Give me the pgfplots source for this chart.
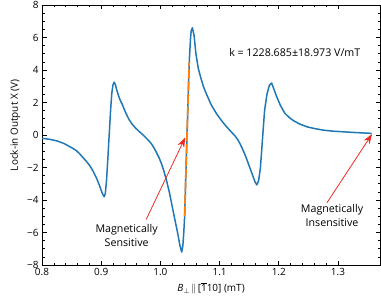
\documentclass[border=0pt]{standalone}
\usepackage{fontspec}
\setmainfont{Open Sans}
\usepackage{pgfplots}
\pgfplotsset{compat=1.18}
\usetikzlibrary{arrows.meta}
\definecolor{mblue}{HTML}{1F77B4}
\definecolor{morange}{HTML}{FF7F0E}
\definecolor{mred}{HTML}{EE2A24}
\begin{document}
\begin{tikzpicture}
\begin{axis}[
  name=main,
  scale only axis, width=338bp, height=260bp,
  xmin=0.8, xmax=1.371, ymin=-8, ymax=8,
  xtick={0.8,0.9,1.0,1.1,1.2,1.3}, xticklabels={0.8,0.9,1.0,1.1,1.2,1.3},
  ytick={-8,-6,-4,-2,0,2,4,6,8}, yticklabels={−8,−6,−4,−2,0,2,4,6,8},
  minor x tick num=4, minor y tick num=3,
  tick align=inside, major tick length=4.5bp, minor tick length=2.5bp,
  tick style={black, line width=0.6pt},
  axis line style={line width=0.8pt},
  ticklabel style={font=\fontsize{10}{12}\selectfont},
  label style={font=\fontsize{10}{12}\selectfont},
  xlabel={\textit{B}\raisebox{-0.4ex}{\scriptsize$\perp$}\,$\parallel$\,[\ensuremath{\overline{\mbox{1}}}10] (mT)},
  ylabel={Lock-in Output X (V)},
  ylabel style={at={(ticklabel cs:0.537)}},
  clip=false,
]
\addplot[mblue, line width=1.5pt, line join=round] coordinates {
(0.800,-0.20) (0.812,-0.26) (0.825,-0.36) (0.837,-0.52) (0.846,-0.70)
(0.852,-0.82) (0.858,-0.96) (0.864,-1.17) (0.869,-1.38) (0.874,-1.58)
(0.880,-1.85) (0.886,-2.2) (0.8915,-2.6)
(0.897,-3.1) (0.902,-3.6) (0.905,-3.8) (0.907,-3.6) (0.909,-2.8)
(0.911,-1.6) (0.9135,0.0) (0.916,1.6) (0.918,2.6) (0.920,3.1) (0.922,3.25)
(0.924,3.1) (0.926,2.8) (0.929,2.45) (0.932,2.15) (0.936,1.85) (0.941,1.4)
(0.947,0.95) (0.952,0.68) (0.958,0.43) (0.964,0.22) (0.970,0.03)
(0.975,-0.15) (0.980,-0.33) (0.985,-0.55) (0.989,-0.78) (0.993,-1.05)
(0.998,-1.42) (1.002,-1.78) (1.006,-2.22) (1.010,-2.75) (1.015,-3.5) (1.020,-4.4)
(1.025,-5.3) (1.029,-6.0) (1.033,-6.8) (1.036,-7.2) (1.038,-6.8)
(1.0395,-6.0) (1.041,-5.0) (1.043,-2.5) (1.045,0.0) (1.047,2.4)
(1.049,4.7) (1.051,6.0) (1.052,6.4) (1.054,6.6) (1.057,6.1)
(1.060,5.0) (1.064,4.1) (1.068,3.55) (1.073,2.95) (1.078,2.5) (1.086,1.85)
(1.095,1.3) (1.104,0.85) (1.112,0.5) (1.117,0.3) (1.122,0.1) (1.126,-0.05)
(1.130,-0.25) (1.134,-0.5) (1.139,-0.88) (1.143,-1.22) (1.147,-1.6)
(1.154,-2.3) (1.160,-2.9)
(1.163,-3.07) (1.166,-2.8) (1.169,-2.0) (1.171,-1.0) (1.173,0.0)
(1.176,1.5) (1.180,2.5) (1.184,3.05) (1.188,3.2) (1.191,2.9)
(1.196,2.4) (1.203,1.8) (1.210,1.35) (1.217,1.1) (1.224,0.9) (1.235,0.68)
(1.248,0.5) (1.260,0.4) (1.275,0.3) (1.290,0.24) (1.308,0.2) (1.330,0.15) (1.357,0.1)
};
\addplot[morange, line width=1.7pt, dash pattern=on 10bp off 2.5bp] coordinates {
(1.0409,-5.0) (1.0487,4.5)
};
\draw[mred, line width=0.8pt, -{Stealth[length=10bp,width=7bp]}]
  (axis cs:0.976,-5.2) -- (axis cs:1.042,-0.15);
\draw[mred, line width=0.8pt, -{Stealth[length=10bp,width=7bp]}]
  (axis cs:1.2814,-4.17) -- (axis cs:1.3576,0.06);
\node[align=center, font=\fontsize{10.7}{14}\selectfont, inner sep=0pt]
  at (axis cs:0.943,-6.2) {Magnetically\\Sensitive};
\node[align=center, font=\fontsize{10.7}{14}\selectfont, inner sep=0pt]
  at (axis cs:1.290,-4.97) {Magnetically\\Insensitive};
\node[font=\fontsize{10.7}{12}\selectfont, inner sep=0pt]
  at (axis cs:1.227,5.1) {k = 1228.685±18.973 V/mT};
\end{axis}
\pgfresetboundingbox
\useasboundingbox ([xshift=-42bp,yshift=-39bp]main.south west) rectangle ([xshift=1bp,yshift=5bp]main.north east);
\end{tikzpicture}
\end{document}
